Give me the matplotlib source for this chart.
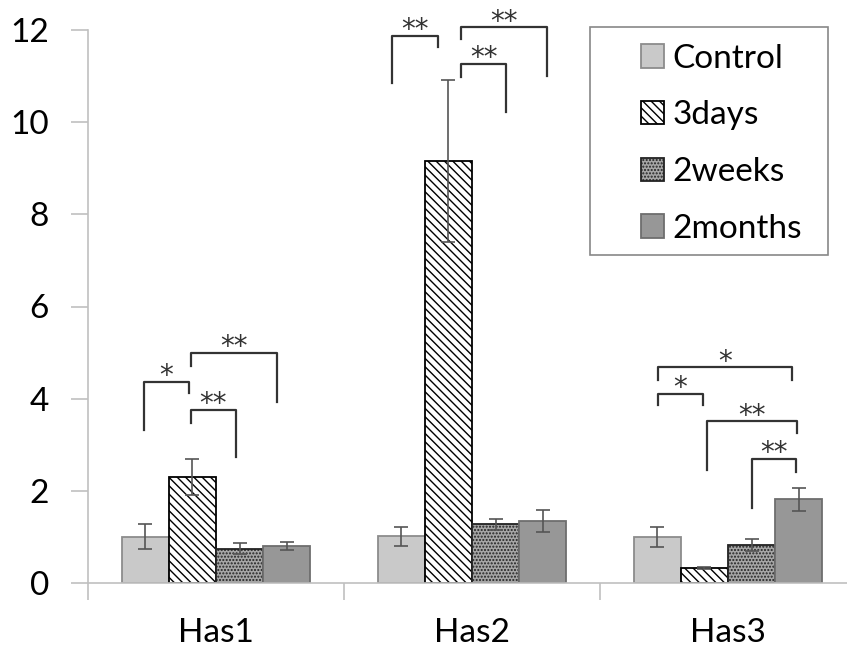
import numpy as np
import matplotlib
matplotlib.use("Agg")
import matplotlib.pyplot as plt
from matplotlib.patches import Rectangle

plt.rcParams['font.family'] = ['Lato', 'DejaVu Sans']

# data
genes = ["Has1", "Has2", "Has3"]
groups = ["Control", "3days", "2weeks", "2months"]
means = {
    "Control": [1.00, 1.01, 1.00],
    "3days":   [2.30, 9.15, 0.32],
    "2weeks":  [0.74, 1.27, 0.82],
    "2months": [0.80, 1.34, 1.82],
}
errors = {
    "Control": [0.27, 0.20, 0.22],
    "3days":   [0.40, 1.76, 0.02],
    "2weeks":  [0.12, 0.12, 0.13],
    "2months": [0.08, 0.24, 0.25],
}

# significance brackets: gene index, left leg x / right leg x (offset from gene centre),
# top, left leg bottom, right leg bottom, label
brackets = [
    (0, -0.281, -0.105, 4.37, 3.32, 4.12, "*"),
    (0, -0.098, 0.238, 4.99, 4.71, 3.93, "**"),
    (0, -0.098, 0.078, 3.75, 3.47, 2.73, "**"),
    (1, -0.312, -0.133, 11.88, 10.84, 11.63, "**"),
    (1, -0.043, 0.293, 12.06, 11.80, 11.01, "**"),
    (1, -0.043, 0.133, 11.27, 10.97, 10.22, "**"),
    (2, -0.273, 0.250, 4.68, 4.40, 4.40, "*"),
    (2, -0.273, -0.098, 4.11, 3.86, 3.86, "*"),
    (2, -0.082, 0.270, 3.51, 2.45, 3.25, "**"),
    (2, 0.094, 0.266, 2.69, 1.63, 2.41, "**"),
]

styles = {
    "Control": dict(facecolor="#c9c9c9", edgecolor="#8c8c8c", hatch=None),
    "3days":   dict(facecolor="white", edgecolor="black", hatch="\\\\\\\\"),
    "2weeks":  dict(facecolor="#a6a6a6", edgecolor="#222222", hatch="....."),
    "2months": dict(facecolor="#979797", edgecolor="#6e6e6e", hatch=None),
}

fig = plt.figure(figsize=(8.47, 6.51), dpi=100)
ax = fig.add_axes([88 / 847, 68 / 651, 768 / 847, 553 / 651])

x = np.arange(len(genes))
w = 0.184
for i, g in enumerate(groups):
    st = styles[g]
    pos = x + (i - 1.5) * w
    ax.bar(pos, means[g], width=w, facecolor=st["facecolor"], edgecolor=st["edgecolor"],
           hatch=st["hatch"], linewidth=1.3, label=g, zorder=2)
    ax.errorbar(pos, means[g], yerr=errors[g], fmt="none", ecolor="#555555",
                elinewidth=1.2, capsize=5, capthick=1.2, zorder=3)

for gi, xl, xr, top, lb, rb, lab in brackets:
    x0 = gi + xl
    x1 = gi + xr
    ax.plot([x0, x0, x1, x1], [lb, top, top, rb], color="#333333", lw=1.6,
            clip_on=False, zorder=4)
    ax.text((x0 + x1) / 2, top - 0.05, lab, ha="center", va="baseline",
            fontsize=20, family="DejaVu Sans", color="#333333", clip_on=False)

ax.set_xlim(-0.5, 2.5)
ax.set_ylim(0, 12)
ax.set_yticks(np.arange(0, 13, 2))
ax.set_xticks(x)
ax.set_xticklabels(genes)
ax.set_xticks(np.arange(-0.5, 3.0, 1.0), minor=True)
ax.tick_params(axis="x", which="major", length=0, pad=25, labelsize=24)
ax.tick_params(axis="x", which="minor", length=12, width=1.2, color="#c0c0c0")
ax.tick_params(axis="y", length=12, width=1.2, color="#c0c0c0", pad=16, labelsize=24)

for s in ["top", "right"]:
    ax.spines[s].set_visible(False)
for s in ["left", "bottom"]:
    ax.spines[s].set_color("#c0c0c0")
    ax.spines[s].set_linewidth(1.2)

# legend box
fig.patches.append(Rectangle((590 / 847, 1 - 255 / 651), 238 / 847, 228 / 651,
                             transform=fig.transFigure, facecolor="white",
                             edgecolor="#888888", linewidth=1.2, zorder=5))
leg = fig.legend(loc="upper left", bbox_to_anchor=(624 / 847, 1 - 27 / 651),
                 frameon=False, fontsize=24, handlelength=0.7, handleheight=0.7,
                 handletextpad=0.25, labelspacing=0.8, borderpad=0)
leg.set_zorder(6)

fig.savefig("out.png", dpi=100)
